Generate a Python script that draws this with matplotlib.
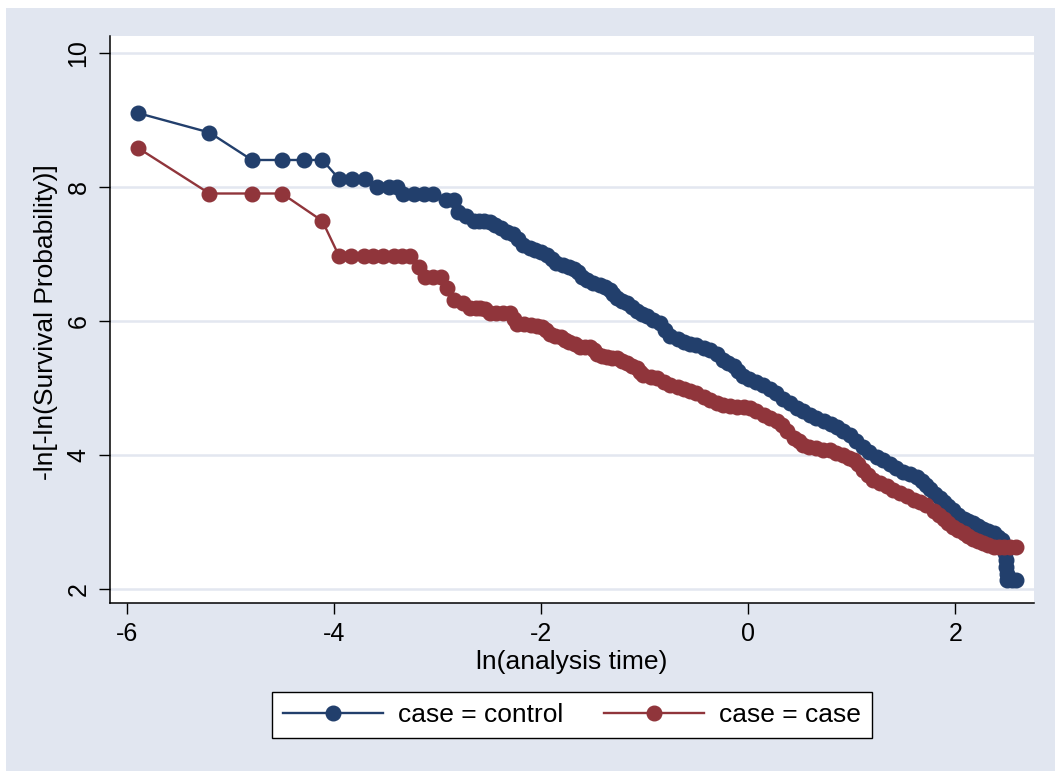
#!/usr/bin/env python3
"""
Log-log survival plot (-ln[-ln(S)] vs ln(t)) for controls and cases.
"""

import matplotlib
matplotlib.use('Agg')
import matplotlib.pyplot as plt
import matplotlib.patches as mpatches

# ln(analysis time) and -ln[-ln(S)] for case = control
control_x = [-5.89, -5.20, -4.79, -4.50, -4.29, -4.11, -3.95, -3.82, -3.70, -3.58,
             -3.47, -3.39, -3.33, -3.23, -3.13, -3.04, -2.92, -2.84, -2.80, -2.72,
             -2.65, -2.60, -2.55, -2.49, -2.44, -2.39, -2.33, -2.27, -2.22, -2.17,
             -2.11, -2.06, -2.00, -1.94, -1.89, -1.85, -1.79, -1.73, -1.68, -1.64,
             -1.60, -1.56, -1.50, -1.43, -1.38, -1.33, -1.30, -1.27, -1.22, -1.17,
             -1.12, -1.07, -1.02, -0.98, -0.92, -0.85, -0.80, -0.75, -0.68, -0.62,
             -0.56, -0.50, -0.43, -0.37, -0.30, -0.24, -0.19, -0.14, -0.10, -0.05,
             0.01, 0.08, 0.14, 0.21, 0.27, 0.34, 0.40, 0.47, 0.53, 0.60,
             0.66, 0.73, 0.80, 0.86, 0.92, 0.98, 1.04, 1.11, 1.17, 1.24,
             1.30, 1.37, 1.43, 1.50, 1.56, 1.63, 1.68, 1.72, 1.76, 1.80,
             1.85, 1.89, 1.93, 1.98, 2.03, 2.08, 2.12, 2.17, 2.22, 2.27,
             2.32, 2.37, 2.41, 2.45, 2.47, 2.48, 2.49, 2.49, 2.50, 2.50,
             2.55, 2.59]
control_y = [9.10, 8.81, 8.40, 8.40, 8.40, 8.40, 8.12, 8.12, 8.12, 7.99,
             7.99, 7.99, 7.90, 7.90, 7.90, 7.90, 7.81, 7.81, 7.63, 7.56,
             7.49, 7.49, 7.49, 7.48, 7.43, 7.38, 7.33, 7.30, 7.22, 7.13,
             7.09, 7.06, 7.02, 6.98, 6.92, 6.86, 6.83, 6.81, 6.77, 6.73,
             6.66, 6.61, 6.57, 6.54, 6.50, 6.46, 6.40, 6.34, 6.30, 6.26,
             6.20, 6.14, 6.10, 6.07, 6.02, 5.97, 5.87, 5.77, 5.73, 5.69,
             5.66, 5.64, 5.60, 5.57, 5.50, 5.42, 5.37, 5.32, 5.25, 5.17,
             5.13, 5.09, 5.04, 4.99, 4.92, 4.84, 4.77, 4.70, 4.65, 4.60,
             4.55, 4.50, 4.46, 4.42, 4.36, 4.30, 4.21, 4.12, 4.05, 3.97,
             3.92, 3.87, 3.81, 3.75, 3.71, 3.67, 3.61, 3.55, 3.49, 3.42,
             3.36, 3.30, 3.24, 3.18, 3.11, 3.05, 3.01, 2.98, 2.94, 2.90,
             2.86, 2.83, 2.78, 2.73, 2.63, 2.53, 2.43, 2.33, 2.23, 2.13,
             2.13, 2.13]

# ln(analysis time) and -ln[-ln(S)] for case = case
case_x = [-5.89, -5.20, -4.79, -4.50, -4.11, -3.95, -3.83, -3.71, -3.62, -3.52,
          -3.42, -3.34, -3.26, -3.18, -3.12, -3.04, -2.96, -2.91, -2.84, -2.75,
          -2.68, -2.63, -2.59, -2.54, -2.49, -2.43, -2.37, -2.30, -2.26, -2.23,
          -2.16, -2.10, -2.04, -1.99, -1.95, -1.91, -1.86, -1.81, -1.77, -1.73,
          -1.67, -1.62, -1.57, -1.53, -1.49, -1.46, -1.41, -1.36, -1.31, -1.27,
          -1.22, -1.17, -1.12, -1.07, -1.04, -1.01, -0.94, -0.88, -0.81, -0.75,
          -0.68, -0.62, -0.56, -0.50, -0.43, -0.37, -0.30, -0.24, -0.17, -0.11,
          -0.04, 0.02, 0.08, 0.15, 0.21, 0.28, 0.33, 0.38, 0.44, 0.49,
          0.53, 0.59, 0.66, 0.72, 0.79, 0.85, 0.92, 0.97, 1.02, 1.06,
          1.11, 1.16, 1.21, 1.27, 1.34, 1.40, 1.47, 1.53, 1.60, 1.66,
          1.72, 1.79, 1.84, 1.89, 1.93, 1.98, 2.03, 2.08, 2.12, 2.17,
          2.22, 2.27, 2.32, 2.37, 2.42, 2.47, 2.53, 2.59]
case_y = [8.58, 7.90, 7.90, 7.90, 7.49, 6.97, 6.97, 6.97, 6.97, 6.97,
          6.97, 6.97, 6.97, 6.80, 6.65, 6.65, 6.65, 6.49, 6.31, 6.26,
          6.19, 6.19, 6.19, 6.17, 6.12, 6.11, 6.11, 6.11, 6.03, 5.96,
          5.95, 5.94, 5.93, 5.91, 5.86, 5.81, 5.78, 5.76, 5.72, 5.69,
          5.65, 5.61, 5.61, 5.61, 5.56, 5.51, 5.48, 5.46, 5.45, 5.44,
          5.40, 5.37, 5.33, 5.29, 5.24, 5.19, 5.16, 5.14, 5.09, 5.04,
          5.01, 4.99, 4.95, 4.92, 4.87, 4.82, 4.78, 4.75, 4.73, 4.72,
          4.71, 4.70, 4.65, 4.60, 4.55, 4.50, 4.45, 4.35, 4.25, 4.20,
          4.15, 4.12, 4.10, 4.08, 4.07, 4.03, 4.00, 3.96, 3.93, 3.86,
          3.78, 3.70, 3.63, 3.58, 3.53, 3.48, 3.43, 3.38, 3.33, 3.29,
          3.25, 3.17, 3.11, 3.05, 2.99, 2.93, 2.88, 2.83, 2.79, 2.75,
          2.71, 2.68, 2.65, 2.63, 2.63, 2.63, 2.63, 2.63]

x_ticks = [-6, -4, -2, 0, 2]
y_ticks = [2, 4, 6, 8, 10]
series_labels = ['case = control', 'case = case']


def create_loglog_plot():
    plt.rcParams['font.family'] = ['Liberation Sans', 'DejaVu Sans']
    plt.rcParams['axes.unicode_minus'] = False

    navy = '#223f6c'
    maroon = '#90353b'
    region = '#e1e6f0'
    grid = '#e3e7f0'

    fig = plt.figure(figsize=(10.58, 7.74), dpi=100, facecolor='white')

    # Stata-style graph region (behind everything)
    fig.patches.append(mpatches.Rectangle((6 / 1058, 3 / 774), 1049 / 1058, 763 / 774,
                                          transform=fig.transFigure, facecolor=region,
                                          edgecolor='none', zorder=-5))

    ax = fig.add_axes([110 / 1058, 1 - 603 / 774, 924 / 1058, 567 / 774])
    ax.set_facecolor('white')

    ax.plot(control_x, control_y, color=navy, lw=1.7, marker='o', ms=10.5,
            mec=navy, mfc=navy, label=series_labels[0], zorder=3)
    ax.plot(case_x, case_y, color=maroon, lw=1.7, marker='o', ms=10.5,
            mec=maroon, mfc=maroon, label=series_labels[1], zorder=3)

    ax.set_xlim(-6.16, 2.76)
    ax.set_ylim(1.79, 10.25)
    ax.set_xticks(x_ticks)
    ax.set_yticks(y_ticks)
    ax.yaxis.grid(True, color=grid, lw=1.8)
    ax.set_axisbelow(True)

    for side in ['top', 'right']:
        ax.spines[side].set_visible(False)
    for side in ['left', 'bottom']:
        ax.spines[side].set_color('black')
        ax.spines[side].set_linewidth(1.1)

    ax.tick_params(axis='both', direction='out', length=8, width=1.0,
                   colors='black', labelsize=18)
    ax.tick_params(axis='x', pad=5.5)
    ax.tick_params(axis='y', pad=6, labelrotation=90)
    for lab in ax.get_yticklabels():
        lab.set_va('center')

    fig.text(572 / 1058, 1 - 662 / 774, 'ln(analysis time)', ha='center', va='center',
             fontsize=19)
    fig.text(46 / 1058, 1 - 322 / 774, '-ln[-ln(Survival Probability)]', ha='center',
             va='center', rotation=90, fontsize=19)

    leg = fig.legend(loc='center', bbox_to_anchor=(572 / 1058, 1 - 715 / 774), ncol=2,
                     fontsize=19, frameon=True, fancybox=False, edgecolor='black',
                     framealpha=1, handlelength=3.8, handletextpad=0.57,
                     columnspacing=1.55, borderpad=0.42, borderaxespad=0)
    leg.get_frame().set_linewidth(1.0)
    leg.get_frame().set_facecolor('white')

    fig.savefig('out.png', dpi=100, facecolor='white')
    plt.close(fig)


def main():
    create_loglog_plot()
    print("Created: out.png")


if __name__ == "__main__":
    main()
